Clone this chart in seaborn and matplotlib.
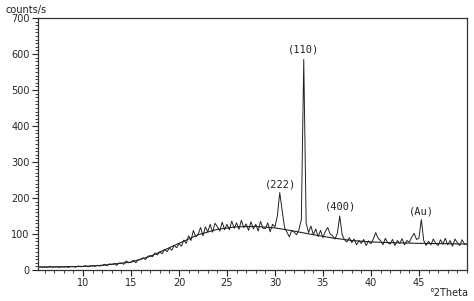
import numpy as np
import pandas as pd
import matplotlib
matplotlib.use("Agg")
import matplotlib.pyplot as plt
from matplotlib.ticker import MultipleLocator
import seaborn as sns

two_theta_start, two_theta_end, two_theta_step = 5.5, 50.0, 0.25
counts = [9, 8,
          9, 7, 10, 8,
          8, 10, 7, 9,
          8, 9, 7, 10,
          9, 8, 11, 9,
          10, 12, 9, 11,
          12, 10, 13, 11,
          13, 16, 12, 17,
          15, 18, 13, 19,
          19, 16, 25, 20,
          22, 27, 20, 28,
          29, 34, 29, 38,
          40, 37, 47, 42,
          50, 45, 57, 51,
          61, 55, 68, 62,
          73, 66, 83, 74,
          95, 82, 110, 92,
          100, 118, 95, 120,
          106, 127, 105, 130,
          120, 108, 133, 112,
          127, 112, 136, 116,
          131, 113, 138, 118,
          128, 110, 134, 114,
          127, 108, 135, 116,
          115, 131, 106, 127,
          120, 150, 215, 165,
          118, 105, 92, 110,
          105, 98, 112, 140,
          585, 130, 104, 122,
          98, 114, 93, 110,
          90, 107, 118, 100,
          95, 86, 102, 150,
          98, 84, 78, 90,
          76, 86, 70, 82,
          74, 85, 68, 81,
          73, 86, 104, 88,
          82, 70, 88, 76,
          72, 85, 68, 82,
          74, 87, 70, 82,
          77, 91, 102, 85,
          88, 140, 82, 68,
          80, 70, 86, 74,
          68, 84, 72, 88,
          70, 82, 66, 86,
          76, 68, 84, 72,
          72]

# fitted background curve
bg_theta = [5.3, 8, 10, 12, 15, 17, 19, 20, 22, 24, 26, 28, 30, 32, 34, 36, 38, 40, 42, 45, 48, 50]
bg_counts = [8, 9, 10, 13, 22, 38, 62, 74, 98, 113, 120, 121, 117, 108, 98, 89, 82, 78, 76, 74, 73, 72]

# peak labels
peak_labels = ["(110)", "(222)", "(400)", "(Au)"]
peak_pos = [33.0, 30.6, 36.8, 45.3]
peak_label_y = [598, 225, 162, 150]

theta = np.arange(two_theta_start, two_theta_end + 1e-9, two_theta_step)
df = pd.DataFrame({"theta": theta, "counts": counts})
bg = pd.DataFrame({"theta": bg_theta, "counts": bg_counts})

sns.set_style("ticks")
plt.rcParams['font.family'] = ['DejaVu Sans']

fig = plt.figure(figsize=(4.74, 3.01), dpi=100)
ax = fig.add_axes([0.080, 0.103, 0.905, 0.837])

sns.lineplot(data=df, x="theta", y="counts", ax=ax, color="#222222", linewidth=0.7)
sns.lineplot(data=bg, x="theta", y="counts", ax=ax, color="#222222", linewidth=0.8)

ax.set_xlim(5.3, 50)
ax.set_ylim(0, 700)
ax.xaxis.set_major_locator(MultipleLocator(5))
ax.xaxis.set_minor_locator(MultipleLocator(1))
ax.yaxis.set_major_locator(MultipleLocator(100))
ax.yaxis.set_minor_locator(MultipleLocator(10))
ax.tick_params(axis="both", which="major", length=4, width=0.8, labelsize=7, pad=2, color="#222222")
ax.tick_params(axis="both", which="minor", length=2.5, width=0.6, color="#222222")
ax.set_xticks([10, 15, 20, 25, 30, 35, 40, 45])
ax.set_xlabel("")
ax.set_ylabel("")
for s in ax.spines.values():
    s.set_linewidth(0.9)
    s.set_color("#333333")

for lab, px, py in zip(peak_labels, peak_pos, peak_label_y):
    ax.text(px, py, lab, ha="center", va="bottom", fontsize=7.5,
            family="DejaVu Sans Mono", color="#222222")

fig.text(5 / 474, 1 - 5 / 301, "counts/s", ha="left", va="top", fontsize=7, color="#222222")
fig.text(468 / 474, 1 - 293 / 301, "°2Theta", ha="right", va="center", fontsize=7, color="#222222")

fig.savefig("out.png", dpi=100)
